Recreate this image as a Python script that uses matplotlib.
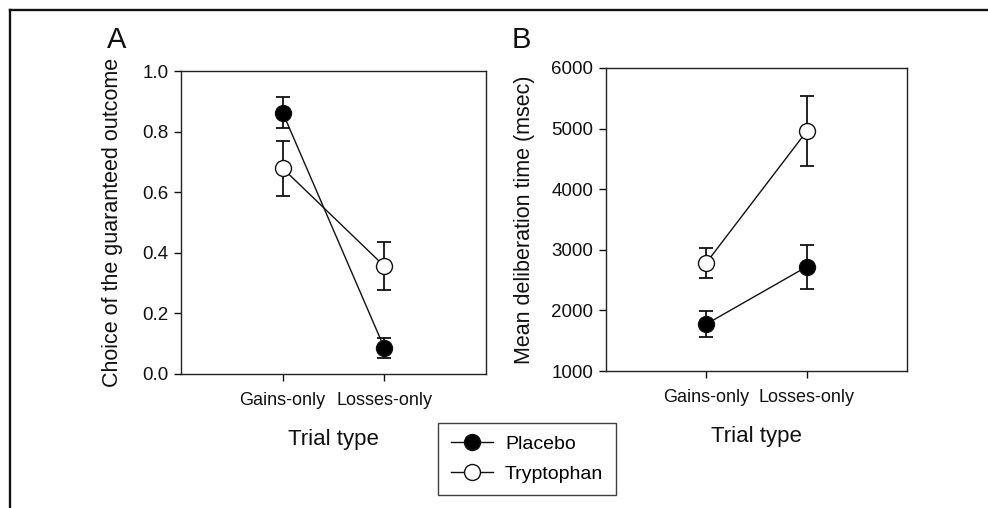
import matplotlib
matplotlib.use('Agg')
import matplotlib.pyplot as plt
from matplotlib.lines import Line2D

# data
trial_types = ['Gains-only', 'Losses-only']
groups = ['Placebo', 'Tryptophan']

choice_placebo = [0.863, 0.086]
choice_placebo_err = [0.051, 0.033]
choice_trp = [0.679, 0.356]
choice_trp_err = [0.090, 0.078]

time_placebo = [1775, 2720]
time_placebo_err = [212, 363]
time_trp = [2786, 4956]
time_trp_err = [248, 580]

plt.rcParams['font.family'] = ['Liberation Sans', 'DejaVu Sans']
plt.rcParams['axes.linewidth'] = 1.0
plt.rcParams['axes.edgecolor'] = '#222222'

W, H = 988, 508
fig = plt.figure(figsize=(W / 100, H / 100), dpi=100)


def px_axes(left, top, right, bottom):
    return fig.add_axes([left / W, 1 - bottom / H, (right - left) / W, (bottom - top) / H])


def draw_panel(ax, ymeans, yerrs, ylim, yticks, fmt, ylabel, ylab_x):
    x = [1, 2]
    for means, errs, face in zip(ymeans, yerrs, ['black', 'white']):
        ax.errorbar(x, means, yerr=errs, fmt='none', ecolor='#111111',
                    elinewidth=1.3, capsize=4.7, capthick=1.3, zorder=2)
        ax.plot(x, means, color='#111111', lw=1.0, marker='o', markersize=11.5,
                markerfacecolor=face, markeredgecolor='#111111', markeredgewidth=1.0,
                zorder=3)
    ax.set_xlim(0, 3)
    ax.set_ylim(*ylim)
    ax.set_xticks(x)
    ax.set_xticklabels(trial_types)
    ax.set_yticks(yticks)
    ax.set_yticklabels([fmt.format(v) for v in yticks])
    ax.tick_params(direction='out', length=5, width=1.0, labelsize=13.5, colors='#111111')
    ax.tick_params(axis='x', pad=8, labelsize=13)
    ax.tick_params(axis='y', pad=4)
    ax.set_ylabel(ylabel, fontsize=15.5, color='#111111')
    ax.yaxis.set_label_coords(ylab_x, 0.5)
    ax.set_xlabel('Trial type', fontsize=16, color='#111111', va='top')
    ax.xaxis.set_label_coords(0.5, -0.18)


axA = px_axes(181, 71, 486, 374)
draw_panel(axA, [choice_placebo, choice_trp], [choice_placebo_err, choice_trp_err],
           (0, 1.0), [0, 0.2, 0.4, 0.6, 0.8, 1.0], '{:.1f}',
           'Choice of the guaranteed outcome', -0.19)

axB = px_axes(606, 68, 907, 371)
draw_panel(axB, [time_placebo, time_trp], [time_placebo_err, time_trp_err],
           (1000, 6000), [1000, 2000, 3000, 4000, 5000, 6000], '{:d}',
           'Mean deliberation time (msec)', -0.235)

fig.text(107 / W, 1 - 48 / H, 'A', fontsize=21, ha='left', va='baseline', color='#111111')
fig.text(512 / W, 1 - 48 / H, 'B', fontsize=21, ha='left', va='baseline', color='#111111')

handles = [
    Line2D([], [], color='#111111', lw=1.0, marker='o', markersize=11.5,
           markerfacecolor='black', markeredgecolor='#111111'),
    Line2D([], [], color='#111111', lw=1.0, marker='o', markersize=11.5,
           markerfacecolor='white', markeredgecolor='#111111'),
]
leg = fig.legend(handles, groups, loc='upper left', bbox_to_anchor=(438 / W, 1 - 423 / H),
                 bbox_transform=fig.transFigure, borderaxespad=0, fontsize=14,
                 frameon=True, fancybox=False, edgecolor='#111111', handlelength=2.2,
                 handletextpad=0.6, labelspacing=0.6, borderpad=0.65)
leg.get_frame().set_linewidth(1.0)

# outer frame of the cropped figure
fig.add_artist(Line2D([10 / W, 1], [1 - 10 / H, 1 - 10 / H], color='#111111', lw=1.7,
                      transform=fig.transFigure))
fig.add_artist(Line2D([10 / W, 10 / W], [0, 1 - 10 / H], color='#111111', lw=1.7,
                      transform=fig.transFigure))

fig.savefig('out.png', dpi=100)
